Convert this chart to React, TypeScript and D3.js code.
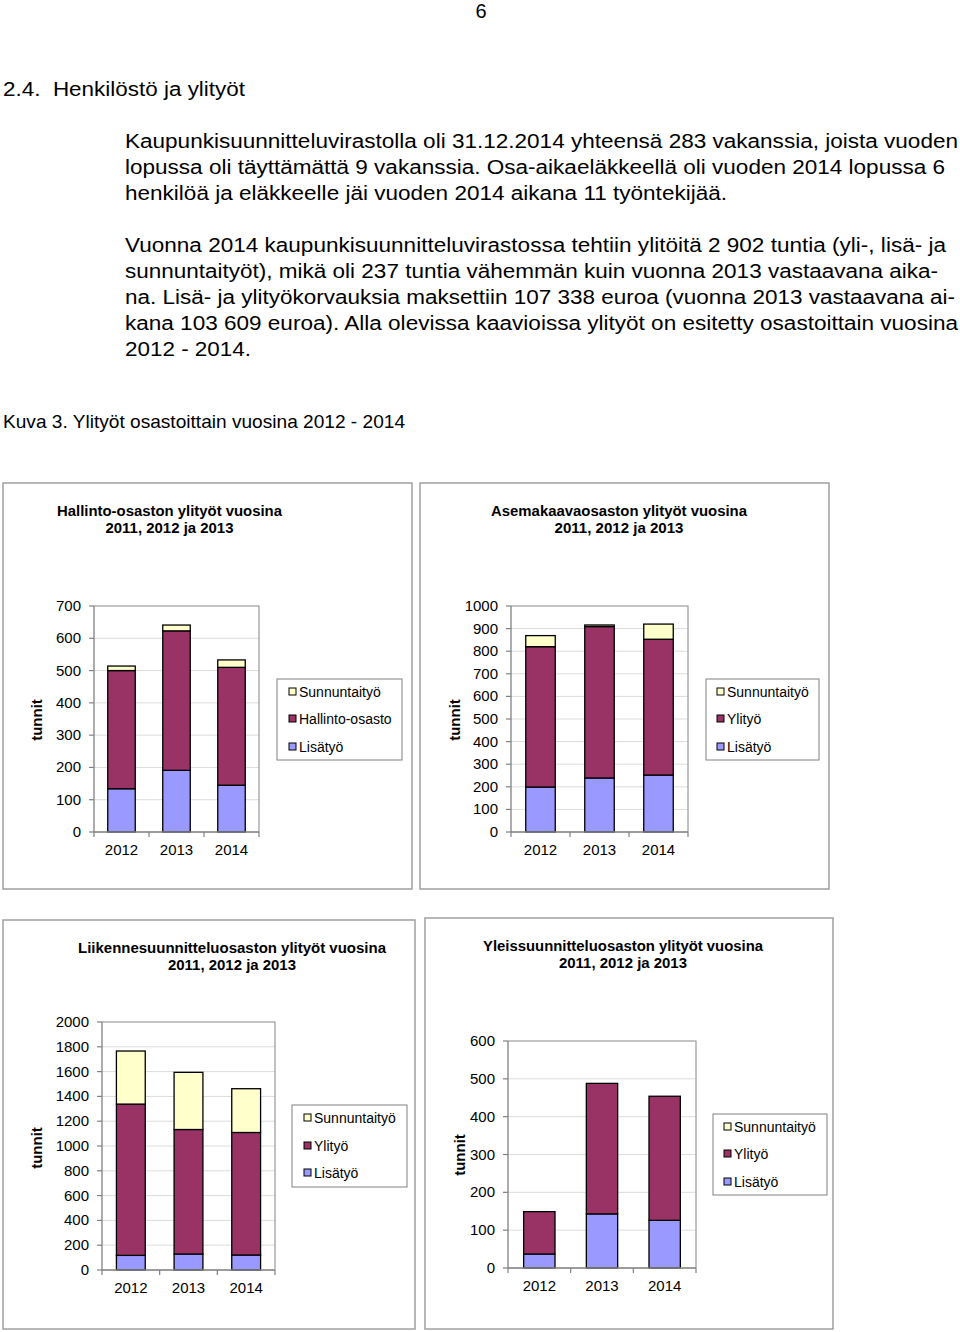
import React from "react";
import * as d3 from "d3";

// ---------- DATA ----------
const years = ["2012", "2013", "2014"];

const seriesKeys = ["Lisätyö", "Ylityö", "Sunnuntaityö"];

const hallintoLisatyo = [134, 191, 145];
const hallintoHallinto = [366, 432, 365];
const hallintoSunnuntai = [14, 18, 23];

const asemaLisatyo = [199, 239, 252];
const asemaYlityo = [621, 670, 601];
const asemaSunnuntai = [49, 7, 67];

const liikenneLisatyo = [118, 129, 121];
const liikenneYlityo = [1220, 1004, 988];
const liikenneSunnuntai = [428, 461, 353];

const yleisLisatyo = [37, 143, 126];
const yleisYlityo = [112, 345, 328];
const yleisSunnuntai = [0, 0, 0];

const hallintoTicks = [0, 100, 200, 300, 400, 500, 600, 700];
const asemaTicks = [0, 100, 200, 300, 400, 500, 600, 700, 800, 900, 1000];
const liikenneTicks = [0, 200, 400, 600, 800, 1000, 1200, 1400, 1600, 1800, 2000];
const yleisTicks = [0, 100, 200, 300, 400, 500, 600];

const chartTitles = [
  ["Hallinto-osaston  ylityöt vuosina", "2011, 2012 ja 2013"],
  ["Asemakaavaosaston  ylityöt vuosina", "2011, 2012 ja 2013"],
  ["Liikennesuunnitteluosaston  ylityöt vuosina", "2011, 2012 ja 2013"],
  ["Yleissuunnitteluosaston  ylityöt vuosina", "2011, 2012 ja 2013"],
];
const middleLabels = ["Hallinto-osasto", "Ylityö", "Ylityö", "Ylityö"];

const headingText = "2.4.  Henkilöstö ja ylityöt";
const para1 = [
  "Kaupunkisuunnitteluvirastolla oli 31.12.2014 yhteensä 283 vakanssia, joista vuoden",
  "lopussa oli täyttämättä 9 vakanssia. Osa-aikaeläkkeellä oli vuoden 2014 lopussa 6",
  "henkilöä ja eläkkeelle jäi vuoden 2014 aikana 11 työntekijää.",
];
const para2 = [
  "Vuonna 2014 kaupunkisuunnitteluvirastossa tehtiin ylitöitä 2 902 tuntia (yli-, lisä- ja",
  "sunnuntaityöt), mikä oli 237 tuntia vähemmän kuin vuonna 2013 vastaavana aika-",
  "na. Lisä- ja ylityökorvauksia maksettiin 107 338 euroa (vuonna 2013 vastaavana ai-",
  "kana 103 609 euroa). Alla olevissa kaavioissa ylityöt on esitetty osastoittain vuosina",
  "2012 - 2014.",
];
const captionText = "Kuva 3. Ylityöt osastoittain vuosina 2012 - 2014";

// ---------- STYLE / LAYOUT ----------
const COLORS: Record<string, string> = {
  "Lisätyö": "#9999ff",
  "Ylityö": "#993366",
  "Sunnuntaityö": "#ffffcc",
};
const FONT = "'Liberation Sans', Arial, Helvetica, sans-serif";

const para1Widths = [833, 820, 602];
const para2Widths = [821, 813, 830, 833, 126];

const layouts = [
  {
    frame: { x: 3, y: 483, w: 409, h: 406 },
    plot: { x0: 94, x1: 259, y0: 606, y1: 832 },
    legend: { x: 277, y: 679, w: 125, h: 81, items: [692, 719, 747], mx: 289 },
    title: { cx: 169.5, y: [516, 533], w: [225, 128] },
    unit: { x: 42, y: 720 },
  },
  {
    frame: { x: 420, y: 483, w: 409, h: 406 },
    plot: { x0: 511, x1: 688, y0: 606, y1: 832 },
    legend: { x: 706, y: 679, w: 113, h: 81, items: [692, 719, 747], mx: 717 },
    title: { cx: 619, y: [516, 533], w: [256, 129] },
    unit: { x: 460, y: 720 },
  },
  {
    frame: { x: 3, y: 920, w: 412, h: 409 },
    plot: { x0: 102, x1: 275, y0: 1022, y1: 1270 },
    legend: { x: 292, y: 1105, w: 115, h: 82, items: [1118, 1146, 1173], mx: 304 },
    title: { cx: 232, y: [953, 970], w: [308, 128] },
    unit: { x: 42, y: 1148 },
  },
  {
    frame: { x: 425, y: 918, w: 408, h: 411 },
    plot: { x0: 508, x1: 696, y0: 1041, y1: 1268 },
    legend: { x: 713, y: 1114, w: 114, h: 81, items: [1127, 1154, 1182], mx: 724 },
    title: { cx: 623, y: [951, 968], w: [280, 128] },
    unit: { x: 465, y: 1155 },
  },
];

const chartData = [
  { lis: hallintoLisatyo, yli: hallintoHallinto, sun: hallintoSunnuntai, ticks: hallintoTicks },
  { lis: asemaLisatyo, yli: asemaYlityo, sun: asemaSunnuntai, ticks: asemaTicks },
  { lis: liikenneLisatyo, yli: liikenneYlityo, sun: liikenneSunnuntai, ticks: liikenneTicks },
  { lis: yleisLisatyo, yli: yleisYlityo, sun: yleisSunnuntai, ticks: yleisTicks },
];

function Chart({ idx }: { idx: number }) {
  const L = layouts[idx];
  const D = chartData[idx];
  const rows = years.map((yr, i) => ({
    year: yr,
    "Lisätyö": D.lis[i],
    "Ylityö": D.yli[i],
    "Sunnuntaityö": D.sun[i],
  }));
  const stack = d3.stack<any>().keys(seriesKeys)(rows);
  const x = d3
    .scaleBand<string>()
    .domain(years)
    .range([L.plot.x0, L.plot.x1])
    .paddingInner(0.5)
    .paddingOuter(0.25);
  const yMax = D.ticks[D.ticks.length - 1];
  const y = d3.scaleLinear().domain([0, yMax]).range([L.plot.y1, L.plot.y0]);
  const step = x.step();
  const boundaries = d3.range(years.length + 1).map((i) => L.plot.x0 + i * step);
  const legendOrder = ["Sunnuntaityö", "Ylityö", "Lisätyö"];
  const legendLabel = (k: string) => (k === "Ylityö" ? middleLabels[idx] : k);

  return (
    <g>
      <rect
        x={L.frame.x}
        y={L.frame.y}
        width={L.frame.w}
        height={L.frame.h}
        fill="#fff"
        stroke="#a0a0a0"
        strokeWidth={1.5}
      />
      {chartTitles[idx].map((t, i) => (
        <text
          key={i}
          x={L.title.cx}
          y={L.title.y[i]}
          textAnchor="middle"
          fontFamily={FONT}
          fontWeight="bold"
          fontSize={14}
          textLength={L.title.w[i]}
          lengthAdjust="spacingAndGlyphs"
          fill="#000"
        >
          {t}
        </text>
      ))}
      {/* gridlines */}
      {D.ticks.map((t) => (
        <line
          key={"g" + t}
          x1={L.plot.x0}
          x2={L.plot.x1}
          y1={y(t)}
          y2={y(t)}
          stroke="#dcdcdc"
          strokeWidth={1}
        />
      ))}
      {/* plot border top/right */}
      <path
        d={`M${L.plot.x0},${L.plot.y0}H${L.plot.x1}V${L.plot.y1}`}
        fill="none"
        stroke="#999"
        strokeWidth={1.2}
      />
      {/* bars */}
      {stack.map((s) =>
        s.map((d, i) => {
          const h = y(d[0]) - y(d[1]);
          if (h <= 0) return null;
          return (
            <rect
              key={s.key + i}
              x={x(years[i])!}
              y={y(d[1])}
              width={x.bandwidth()}
              height={h}
              fill={COLORS[s.key]}
              stroke="#000"
              strokeWidth={1.3}
            />
          );
        })
      )}
      {/* axes */}
      <line x1={L.plot.x0} x2={L.plot.x0} y1={L.plot.y0} y2={L.plot.y1} stroke="#808080" strokeWidth={1.3} />
      <line x1={L.plot.x0} x2={L.plot.x1} y1={L.plot.y1} y2={L.plot.y1} stroke="#808080" strokeWidth={1.3} />
      {D.ticks.map((t) => (
        <g key={"t" + t}>
          <line x1={L.plot.x0 - 5} x2={L.plot.x0} y1={y(t)} y2={y(t)} stroke="#808080" strokeWidth={1.2} />
          <text
            x={L.plot.x0 - 13}
            y={y(t) + 5}
            textAnchor="end"
            fontFamily={FONT}
            fontSize={15}
            fill="#000"
          >
            {t}
          </text>
        </g>
      ))}
      {boundaries.map((bx, i) => (
        <line key={"b" + i} x1={bx} x2={bx} y1={L.plot.y1} y2={L.plot.y1 + 5} stroke="#808080" strokeWidth={1.2} />
      ))}
      {years.map((yr) => (
        <text
          key={"x" + yr}
          x={x(yr)! + x.bandwidth() / 2}
          y={L.plot.y1 + 23}
          textAnchor="middle"
          fontFamily={FONT}
          fontSize={15}
          fill="#000"
        >
          {yr}
        </text>
      ))}
      <text
        transform={`translate(${L.unit.x},${L.unit.y}) rotate(-90)`}
        textAnchor="middle"
        fontFamily={FONT}
        fontWeight="bold"
        fontSize={15}
        fill="#000"
      >
        tunnit
      </text>
      {/* legend */}
      <rect
        x={L.legend.x}
        y={L.legend.y}
        width={L.legend.w}
        height={L.legend.h}
        fill="#fff"
        stroke="#808080"
        strokeWidth={1}
      />
      {legendOrder.map((k, i) => (
        <g key={"l" + k}>
          <rect
            x={L.legend.mx}
            y={L.legend.items[i] - 4}
            width={7}
            height={7}
            fill={COLORS[k]}
            stroke="#000"
            strokeWidth={1}
          />
          <text
            x={L.legend.mx + 10}
            y={L.legend.items[i] + 5}
            fontFamily={FONT}
            fontSize={14}
            fill="#000"
          >
            {legendLabel(k)}
          </text>
        </g>
      ))}
    </g>
  );
}

export default function App() {
  return (
    <svg
      width={960}
      height={1332}
      viewBox="0 0 960 1332"
      style={{ position: "absolute", left: 0, top: 0, background: "#fff" }}
    >
      <rect x={0} y={0} width={960} height={1332} fill="#fff" />
      <text x={481} y={18} textAnchor="middle" fontFamily={FONT} fontSize={20} fill="#000">
        6
      </text>
      <text
        x={3}
        y={96}
        fontFamily={FONT}
        fontSize={20}
        fill="#000"
        textLength={242}
        lengthAdjust="spacingAndGlyphs"
        style={{ whiteSpace: "pre" }}
      >
        {headingText}
      </text>
      {para1.map((t, i) => (
        <text
          key={"p1" + i}
          x={125}
          y={148 + i * 26}
          fontFamily={FONT}
          fontSize={20}
          fill="#000"
          textLength={para1Widths[i]}
          lengthAdjust="spacingAndGlyphs"
        >
          {t}
        </text>
      ))}
      {para2.map((t, i) => (
        <text
          key={"p2" + i}
          x={125}
          y={252 + i * 26}
          fontFamily={FONT}
          fontSize={20}
          fill="#000"
          textLength={para2Widths[i]}
          lengthAdjust="spacingAndGlyphs"
        >
          {t}
        </text>
      ))}
      <text
        x={3}
        y={428}
        fontFamily={FONT}
        fontSize={19}
        fill="#000"
        textLength={402}
        lengthAdjust="spacingAndGlyphs"
      >
        {captionText}
      </text>
      {[0, 1, 2, 3].map((i) => (
        <Chart key={i} idx={i} />
      ))}
    </svg>
  );
}
